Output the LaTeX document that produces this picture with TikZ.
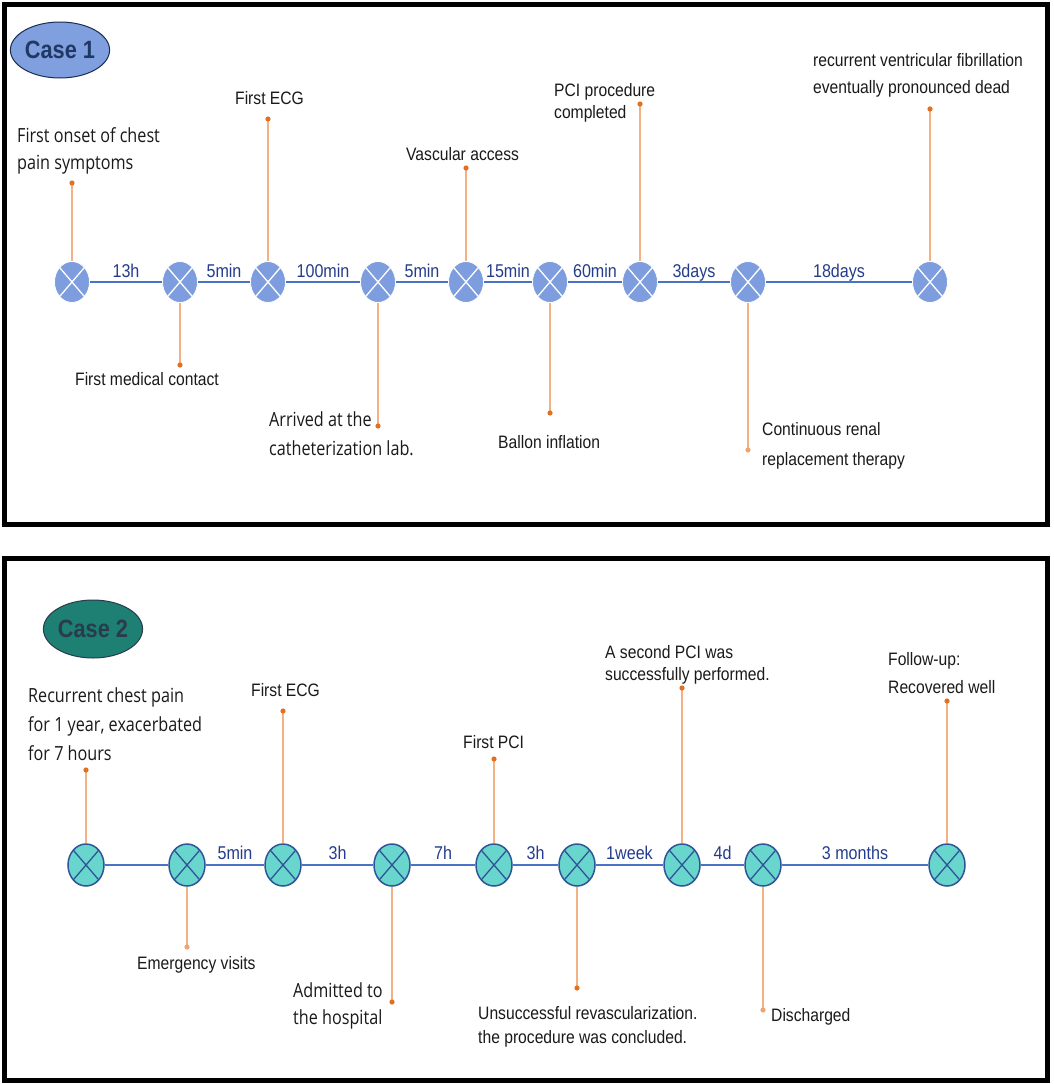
\documentclass[tikz,border=0pt]{standalone}
\usepackage{fontspec}
\setmainfont{Liberation Sans}[FakeStretch=0.87]
\newfontfamily\segfont{Open Sans}[FakeStretch=0.83]
\usetikzlibrary{shapes.geometric}
\definecolor{cAfill}{RGB}{125,157,222}
\definecolor{cAline}{RGB}{74,114,198}
\definecolor{cBfill}{RGB}{105,214,205}
\definecolor{cBedge}{RGB}{46,85,151}
\definecolor{durc}{RGB}{36,60,140}
\definecolor{stemc}{RGB}{244,177,131}
\definecolor{dotc}{RGB}{227,112,31}
\definecolor{txt}{RGB}{26,26,26}
\definecolor{ovalA}{RGB}{127,159,223}
\definecolor{ovalAtext}{RGB}{31,56,100}
\definecolor{ovalB}{RGB}{30,127,115}
\definecolor{ovalBtext}{RGB}{42,59,76}
\begin{document}
\begin{tikzpicture}[x=1pt,y=-1pt,
  every node/.style={inner sep=0pt},
  boxframe/.style={draw=black,line width=5pt},
  na/.style={ellipse,minimum width=35pt,minimum height=41pt,fill=cAfill,draw=white,line width=0.8pt,
    path picture={\draw[white,line width=1.3pt]
      (path picture bounding box.north west)--(path picture bounding box.south east)
      (path picture bounding box.north east)--(path picture bounding box.south west);}},
  nb/.style={ellipse,minimum width=36pt,minimum height=42pt,fill=cBfill,draw=cBedge,line width=1.5pt,
    path picture={\draw[cBedge,line width=1.3pt]
      (path picture bounding box.north west)--(path picture bounding box.south east)
      (path picture bounding box.north east)--(path picture bounding box.south west);}},
  tlA/.style={draw=cAline,line width=1.8pt},
  tlB/.style={draw=cAline,line width=1.8pt},
  dur/.style={midway,anchor=base,yshift=#1,font=\fontsize{18.5}{20}\selectfont,text=durc},
  dur/.default=5pt,
  stem/.style={draw=stemc,line width=1.2pt},
  ann/.style={anchor=north west,align=left,text=txt,font=\fontsize{18}{#1}\selectfont},
  ann/.default=27,
  seg/.style={anchor=north west,align=left,text=txt,font=\segfont\fontsize{19.5}{#1}\selectfont},
  seg/.default=27,
  ovl/.style={ellipse,minimum width=92pt,minimum height=56pt,line width=1pt,font=\bfseries\fontsize{25}{28}\selectfont}
]
\useasboundingbox (0,0) rectangle (1053,1084);
\fill[white] (0,0) rectangle (1053,1084);
\draw[boxframe] (4.5,4.5) rectangle (1047,524.5);
\draw[boxframe] (4.5,558) rectangle (1047,1080);

% ---------- Case 1 ----------
\node[ovl,fill=ovalA,draw=ovalAtext!80!black,text=ovalAtext] (case1) at (60,50) {Case 1};

\node[na] (a1) at (72,282) {};
\node[na] (a2) at (180,282) {};
\node[na] (a3) at (268,282) {};
\node[na] (a4) at (378,282) {};
\node[na] (a5) at (466,282) {};
\node[na] (a6) at (550,282) {};
\node[na] (a7) at (640,282) {};
\node[na] (a8) at (748,282) {};
\node[na] (a9) at (930,282) {};

\draw[tlA] (a1) -- (a2) node[dur] {13h};
\draw[tlA] (a2) -- (a3) node[dur] {5min};
\draw[tlA] (a3) -- (a4) node[dur] {100min};
\draw[tlA] (a4) -- (a5) node[dur] {5min};
\draw[tlA] (a5) -- (a6) node[dur] {15min};
\draw[tlA] (a6) -- (a7) node[dur] {60min};
\draw[tlA] (a7) -- (a8) node[dur] {3days};
\draw[tlA] (a8) -- (a9) node[dur] {18days};

\coordinate (pa1) at (72,183);
\coordinate (pa2) at (180,365);
\coordinate (pa3) at (268,119);
\coordinate (pa4) at (378,426);
\coordinate (pa5) at (466,168);
\coordinate (pa6) at (550,413);
\coordinate (pa7) at (640,104);
\coordinate (pa8) at (748,450);
\coordinate (pa9) at (930,109);
\draw[stem] (a1.north) -- (pa1);
\draw[stem] (a2.south) -- (pa2);
\draw[stem] (a3.north) -- (pa3);
\draw[stem] (a4.south) -- (pa4);
\draw[stem] (a5.north) -- (pa5);
\draw[stem] (a6.south) -- (pa6);
\draw[stem] (a7.north) -- (pa7);
\draw[stem] (a8.south) -- (pa8);
\draw[stem] (a9.north) -- (pa9);
\foreach \p in {pa1,pa2,pa3,pa4,pa5,pa6,pa7,pa9} \fill[dotc] (\p) circle (2.6);
\fill[stemc!80!dotc] (pa8) circle (2.6);

\node[seg] (ta1) at (17,127) {First onset of chest\\pain symptoms};
\node[ann] (ta2) at (75,372) {First medical contact};
\node[ann] (ta3) at (235,91) {First ECG};
\node[seg=29] (ta4) at (269,411) {Arrived at the\\catheterization lab.};
\node[ann] (ta5) at (406,147) {Vascular access};
\node[ann] (ta6) at (498,435) {Ballon inflation};
\node[ann=22] (ta7) at (554,83) {PCI procedure\\completed};
\node[ann=30] (ta8) at (762,422) {Continuous renal\\replacement therapy};
\node[ann] (ta9) at (813,53) {recurrent ventricular fibrillation\\eventually pronounced dead};

% ---------- Case 2 ----------
\node[ovl,minimum width=94pt,minimum height=58pt,fill=ovalB,draw=ovalBtext,text=ovalBtext] (case2) at (93,629) {Case 2};

\node[nb] (b1) at (86,865) {};
\node[nb] (b2) at (187,865) {};
\node[nb] (b3) at (283,865) {};
\node[nb] (b4) at (392,865) {};
\node[nb] (b5) at (494,865) {};
\node[nb] (b6) at (577,865) {};
\node[nb] (b7) at (682,865) {};
\node[nb] (b8) at (763,865) {};
\node[nb] (b9) at (947,865) {};

\draw[tlB] (b1) -- (b2);
\draw[tlB] (b2) -- (b3) node[dur=6pt] {5min};
\draw[tlB] (b3) -- (b4) node[dur=6pt] {3h};
\draw[tlB] (b4) -- (b5) node[dur=6pt] {7h};
\draw[tlB] (b5) -- (b6) node[dur=6pt] {3h};
\draw[tlB] (b6) -- (b7) node[dur=6pt] {1week};
\draw[tlB] (b7) -- (b8) node[dur=6pt] {4d};
\draw[tlB] (b8) -- (b9) node[dur=6pt] {3 months};

\coordinate (pb1) at (86,770);
\coordinate (pb2) at (187,947);
\coordinate (pb3) at (283,711);
\coordinate (pb4) at (392,1002);
\coordinate (pb5) at (494,759);
\coordinate (pb6) at (577,988);
\coordinate (pb7) at (682,688);
\coordinate (pb8) at (763,1010);
\coordinate (pb9) at (947,701);
\draw[stem] (b1.north) -- (pb1);
\draw[stem] (b2.south) -- (pb2);
\draw[stem] (b3.north) -- (pb3);
\draw[stem] (b4.south) -- (pb4);
\draw[stem] (b5.north) -- (pb5);
\draw[stem] (b6.south) -- (pb6);
\draw[stem] (b7.north) -- (pb7);
\draw[stem] (b8.south) -- (pb8);
\draw[stem] (b9.north) -- (pb9);
\foreach \p in {pb1,pb3,pb4,pb5,pb6,pb7,pb9} \fill[dotc] (\p) circle (2.6);
\foreach \p in {pb2,pb8} \fill[stemc!80!dotc] (\p) circle (2.6);

\node[seg=29] (tb1) at (28,687) {Recurrent chest pain\\for 1 year, exacerbated\\for 7 hours};
\node[ann] (tb2) at (137,956) {Emergency visits};
\node[ann] (tb3) at (251,683) {First ECG};
\node[seg=27] (tb4) at (293,982) {Admitted to\\the hospital};
\node[ann] (tb5) at (463,735) {First PCI};
\node[ann=24] (tb6) at (478,1006) {Unsuccessful revascularization.\\the procedure was concluded.};
\node[ann=22] (tb7) at (605,645) {A second PCI was\\successfully performed.};
\node[ann] (tb8) at (771,1008) {Discharged};
\node[ann=28] (tb9) at (888,652) {Follow-up:\\Recovered well};
\end{tikzpicture}
\end{document}
